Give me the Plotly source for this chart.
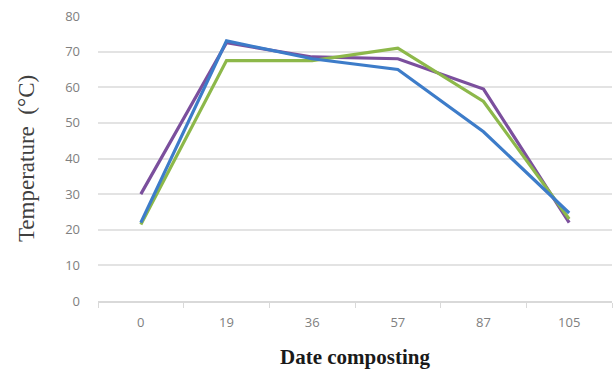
import plotly.graph_objects as go

days = ["0", "19", "36", "57", "87", "105"]
purple_vals = [30, 72.5, 68.5, 68, 59.5, 22]
green_vals = [21.5, 67.5, 67.5, 71, 56, 23]
blue_vals = [22, 73, 68, 65, 47.5, 24.7]
y_ticks = [0, 10, 20, 30, 40, 50, 60, 70, 80]

fig = go.Figure()
for vals, color in [(purple_vals, "#7B4F9D"), (green_vals, "#8DB84A"), (blue_vals, "#3D7CC9")]:
    fig.add_trace(go.Scatter(x=days, y=vals, mode="lines",
                             line=dict(color=color, width=3.2), showlegend=False))

fig.update_layout(
    width=613, height=374,
    margin=dict(l=98, r=1, t=16, b=73),
    paper_bgcolor="white", plot_bgcolor="white",
    xaxis=dict(type="category", range=[-0.5, 5.5], tickson="boundaries", ticks="outside", ticklen=5,
               tickcolor="#d9d9d9", showline=True, linecolor="#d9d9d9", linewidth=1.5,
               showgrid=False, ticklabelstandoff=9,
               tickfont=dict(family="Open Sans", size=13, color="#808080"),
               title=dict(text="<b>Date composting</b>", standoff=19,
                          font=dict(family="Liberation Serif", size=21, color="#1a1a1a"))),
    yaxis=dict(range=[0, 80], tickvals=y_ticks, showgrid=True, gridcolor="#e3e3e3", gridwidth=1.5,
               zeroline=False, showline=False, ticklabelstandoff=17,
               tickfont=dict(family="Open Sans", size=13, color="#808080"),
               title=dict(text="Temperature  (°C)", standoff=24,
                          font=dict(family="Liberation Serif", size=23, color="#404040"))),
)

fig.write_html("out.html")
